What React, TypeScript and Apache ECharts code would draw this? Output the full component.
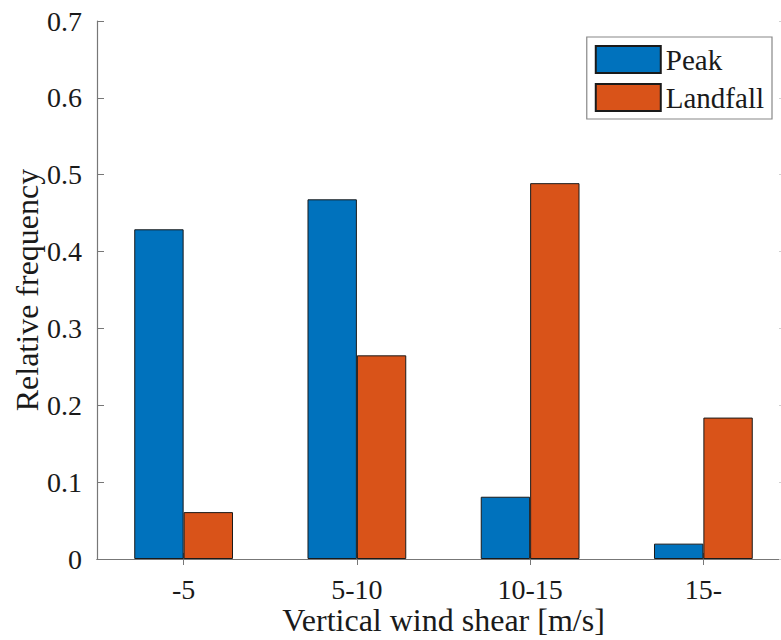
import React, { useEffect, useRef } from "react";
import * as echarts from "echarts";

const categories = ["-5", "5-10", "10-15", "15-"];
const peakValues = [0.429, 0.468, 0.081, 0.02];
const landfallValues = [0.061, 0.265, 0.489, 0.184];
const seriesNames = ["Peak", "Landfall"];
const yMin = 0;
const yMax = 0.7;
const yInterval = 0.1;

const FONT = "Liberation Serif";
const TXT = "#1a1a1a";
const AX = "#777777";

export default function App() {
  const ref = useRef<HTMLDivElement>(null);
  useEffect(() => {
    if (!ref.current) return;
    const chart = echarts.init(ref.current, undefined, { renderer: "svg" });
    chart.setOption({
      animation: false,
      backgroundColor: "#ffffff",
      textStyle: { fontFamily: FONT },
      grid: { left: 97, top: 21, right: -9, bottom: 81, containLabel: false, outerBoundsMode: "none" },
      legend: {
        show: true,
        right: 9,
        top: 37,
        orient: "vertical",
        icon: "rect",
        itemWidth: 65,
        itemHeight: 27,
        itemGap: 9,
        padding: [8, 8, 7, 8],
        borderColor: "#888888",
        borderWidth: 1.2,
        borderRadius: 0,
        backgroundColor: "#ffffff",
        textStyle: { fontFamily: FONT, fontSize: 29, color: TXT },
        data: seriesNames,
      },
      xAxis: [
        {
          type: "category",
          data: categories,
          position: "bottom",
          axisLine: { show: true, lineStyle: { color: AX, width: 1.2 } },
          axisTick: { show: true, inside: true, alignWithLabel: true, length: 6, lineStyle: { color: AX } },
          axisLabel: { fontFamily: FONT, fontSize: 28, color: TXT, margin: 16 },
          name: "Vertical wind shear [m/s]",
          nameLocation: "middle",
          nameMoveOverlap: false,
          nameGap: 45,
          nameTextStyle: { fontFamily: FONT, fontSize: 32, color: TXT, lineHeight: 32 },
        },
        {
          type: "category",
          data: categories,
          position: "top",
          axisLine: { show: true, lineStyle: { color: AX, width: 1.2 } },
          axisTick: { show: true, inside: true, alignWithLabel: true, length: 6, lineStyle: { color: AX } },
          axisLabel: { show: false },
        },
      ],
      yAxis: [
        {
          type: "value",
          min: yMin,
          max: yMax,
          interval: yInterval,
          position: "left",
          splitLine: { show: false },
          axisLine: { show: true, lineStyle: { color: AX, width: 1.2 } },
          axisTick: { show: true, inside: true, length: 7, lineStyle: { color: AX } },
          axisLabel: {
            fontFamily: FONT,
            fontSize: 28,
            color: TXT,
            margin: 15,
            formatter: (v: number) => (v === 0 ? "0" : v.toFixed(1)),
          },
          name: "Relative frequency",
          nameLocation: "middle",
          nameMoveOverlap: false,
          nameGap: 54,
          nameTextStyle: { fontFamily: FONT, fontSize: 32, color: TXT, lineHeight: 32 },
        },
        {
          type: "value",
          min: yMin,
          max: yMax,
          interval: yInterval,
          position: "right",
          splitLine: { show: false },
          axisLine: { show: true, lineStyle: { color: AX, width: 1.2 } },
          axisTick: { show: true, inside: true, length: 11, lineStyle: { color: "#d0d0d0" } },
          axisLabel: { show: false },
        },
      ],
      series: [
        {
          name: seriesNames[0],
          type: "bar",
          data: peakValues,
          barGap: "0%",
          barCategoryGap: "43%",
          itemStyle: { color: "#0072BD", borderColor: "#1a1a1a", borderWidth: 1 },
        },
        {
          name: seriesNames[1],
          type: "bar",
          data: landfallValues,
          barGap: "0%",
          barCategoryGap: "43%",
          itemStyle: { color: "#D95319", borderColor: "#1a1a1a", borderWidth: 1 },
        },
      ],
    });
    return () => chart.dispose();
  }, []);
  return (
    <div
      ref={ref}
      style={{ position: "fixed", left: 0, top: 0, width: 781, height: 640, overflow: "hidden" }}
    />
  );
}
